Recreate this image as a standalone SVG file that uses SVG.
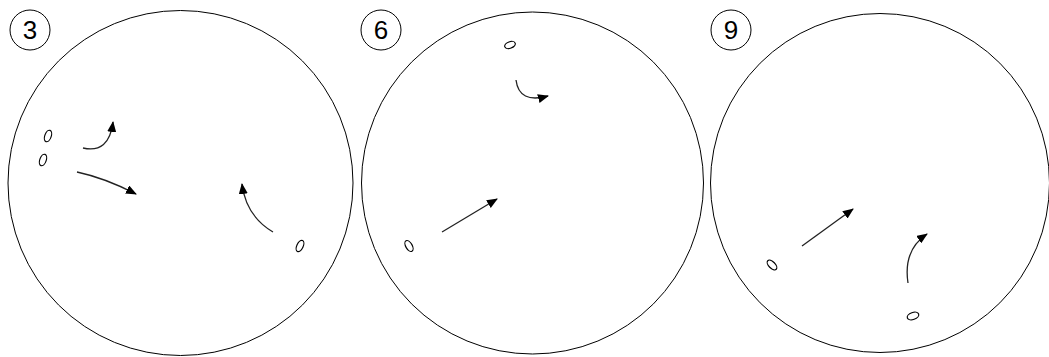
<svg xmlns="http://www.w3.org/2000/svg" width="1049" height="357" viewBox="0 0 1049 357">
<style>
.big{fill:none;stroke:#000;stroke-width:1}
.lab{fill:#fff;stroke:#000;stroke-width:1}
.num{font-family:"Liberation Sans",Arial,sans-serif;font-size:26px;fill:#000;text-anchor:middle}
.p{fill:none;stroke:#000;stroke-width:1.2}
.a{fill:none;stroke:#222;stroke-width:1.3;marker-end:url(#ah)}
</style>
<defs>
<marker id="ah" markerWidth="11" markerHeight="9" refX="10" refY="4.5" orient="auto" markerUnits="userSpaceOnUse">
<path d="M0,0 L11,4.5 L0,9 Z" fill="#000"/>
</marker>
</defs>
<rect width="1049" height="357" fill="#fff"/>
<g id="panel3">
<circle class="big" cx="180.5" cy="183" r="172.5"/>
<ellipse class="p" cx="48" cy="136" rx="3.2" ry="6" transform="rotate(20 48 136)"/>
<ellipse class="p" cx="43" cy="160" rx="3.2" ry="6" transform="rotate(20 43 160)"/>
<ellipse class="p" cx="300" cy="246" rx="3.2" ry="6" transform="rotate(25 300 246)"/>
</g>
<g id="panel6">
<circle class="big" cx="532.5" cy="183" r="171"/>
<ellipse class="p" cx="510" cy="45" rx="5.5" ry="3.2" transform="rotate(-20 510 45)"/>
<ellipse class="p" cx="409" cy="246" rx="3.2" ry="6" transform="rotate(-30 409 246)"/>
</g>
<g id="panel9">
<circle class="big" cx="880" cy="183" r="169.5"/>
<ellipse class="p" cx="772" cy="265" rx="3.2" ry="6" transform="rotate(-45 772 265)"/>
<ellipse class="p" cx="913" cy="316" rx="6" ry="3.5" transform="rotate(-20 913 316)"/>
</g>
<g id="label3">
<circle class="lab" cx="30" cy="30" r="20"/>
<text class="num" x="30" y="39">3</text>
</g>
<g id="label6">
<circle class="lab" cx="381" cy="30" r="20"/>
<text class="num" x="381" y="39">6</text>
</g>
<g id="label9">
<circle class="lab" cx="731" cy="30" r="20"/>
<text class="num" x="731" y="39">9</text>
</g>
<g id="connectors">
<path class="a" d="M83,148 Q109,154 113,122"/>
<path class="a" d="M77,172 Q105,178 136,194"/>
<path class="a" d="M273,232 Q246,216 242,184"/>
<path class="a" d="M516,80 Q519,104 548,96"/>
<path class="a" d="M442,232 L497,199"/>
<path class="a" d="M802,246 L853,209"/>
<path class="a" d="M908,283 Q903,250 927,234"/>
</g>
</svg>
